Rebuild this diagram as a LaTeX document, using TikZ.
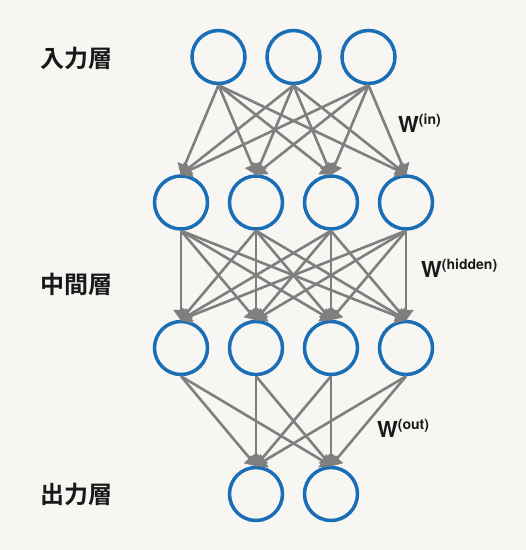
\documentclass[tikz,border=0pt]{standalone}
\usepackage{fontspec}
\setmainfont{TeX Gyre Heros}
\newfontfamily\jp{Noto Sans CJK JP}[BoldFont={Noto Sans CJK JP Bold}]
\usetikzlibrary{arrows.meta}
\definecolor{bg}{HTML}{F8F6F2}
\definecolor{nodeblue}{HTML}{1A6EB6}
\definecolor{edgegray}{HTML}{7F7F7F}
\begin{document}
\begin{tikzpicture}[x=1pt,y=-1pt,
  neuron/.style={circle,draw=nodeblue,line width=3.5pt,minimum size=53pt,inner sep=0pt,fill=white,fill opacity=0},
  conn/.style={draw=edgegray,line width=2.6pt,-{Triangle[width=15pt,length=11pt]},shorten >=-1pt},
  layerlbl/.style={font=\jp\bfseries\fontsize{24}{28}\selectfont,text=black!90},
  wlbl/.style={font=\bfseries\fontsize{22}{25}\selectfont,text=black!90,anchor=base west,inner sep=0pt}]
\fill[bg] (0,0) rectangle (526,550);
\useasboundingbox (0,0) rectangle (526,550);
% nodes
\node[neuron] (i1) at (218.5,57) {};
\node[neuron] (i2) at (293.5,57) {};
\node[neuron] (i3) at (368.5,57) {};
\foreach \k/\x in {1/181,2/256,3/331,4/406}{
  \node[neuron] (a\k) at (\x,202.5) {};
  \node[neuron] (b\k) at (\x,348) {};
}
\node[neuron] (o1) at (256,494) {};
\node[neuron] (o2) at (331,494) {};
% connections
\foreach \s in {1,2,3}{\foreach \t in {1,2,3,4}{\draw[conn] (i\s.south) -- (a\t.north);}}
\foreach \s in {1,2,3,4}{\foreach \t in {1,2,3,4}{\draw[conn] (a\s.south) -- (b\t.north);}}
\foreach \s in {1,2,3,4}{\foreach \t in {1,2}{\draw[conn] (b\s.south) -- (o\t.north);}}
% labels
\node[layerlbl] (l1) at (77,58) {入力層};
\node[layerlbl] (l2) at (77,284) {中間層};
\node[layerlbl] (l3) at (77,494) {出力層};
\node[wlbl] (w1) at (398,132) {W\raisebox{7.5pt}{\fontsize{14}{16}\selectfont(in)}};
\node[wlbl] (w2) at (421,277) {W\raisebox{7.5pt}{\fontsize{14}{16}\selectfont(hidden)}};
\node[wlbl] (w3) at (377,437) {W\raisebox{7.5pt}{\fontsize{14}{16}\selectfont(out)}};
\end{tikzpicture}
\end{document}
